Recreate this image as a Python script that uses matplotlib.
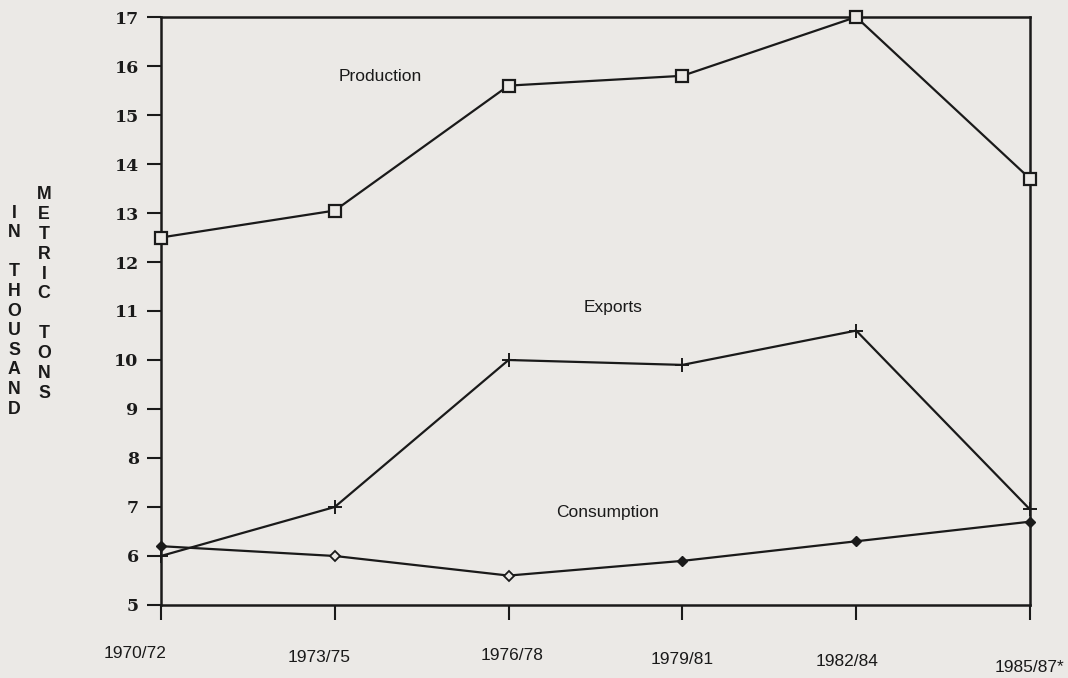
import matplotlib
matplotlib.use("Agg")
import matplotlib.pyplot as plt
import matplotlib.transforms as mtransforms

# data (thousand metric tons)
periods = ["1970/72", "1973/75", "1976/78", "1979/81", "1982/84", "1985/87*"]
production = [12.5, 13.05, 15.6, 15.8, 17.0, 13.7]
exports = [6.0, 7.0, 10.0, 9.9, 10.6, 6.95]
consumption = [6.2, 6.0, 5.6, 5.9, 6.3, 6.7]
yticks = [5, 6, 7, 8, 9, 10, 11, 12, 13, 14, 15, 16, 17]

bg = "#ebe9e6"
ink = "#1a1a1a"

fig = plt.figure(figsize=(10.68, 6.78), dpi=100, facecolor=bg)
ax = fig.add_axes([0.1507, 0.1077, 0.8137, 0.8672])
ax.set_facecolor(bg)

x = list(range(len(periods)))

ax.plot(x, production, color=ink, lw=1.6, marker="s", ms=8, mfc=bg,
        mec=ink, mew=1.6, clip_on=False, zorder=3)
ax.plot(x, exports, color=ink, lw=1.6, marker="+", ms=10, mew=1.4,
        clip_on=False, zorder=3)
ax.plot(x, consumption, color=ink, lw=1.6, clip_on=False, zorder=3)
filled = [0, 3, 4, 5]
hollow = [1, 2]
ax.plot(x, consumption, ls="none", marker="D", ms=5.5, mfc=ink, mec=ink,
        markevery=filled, clip_on=False, zorder=4)
ax.plot(x, consumption, ls="none", marker="D", ms=5.5, mfc=bg, mec=ink,
        mew=1.3, markevery=hollow, clip_on=False, zorder=4)

ax.set_xlim(0, len(periods) - 1)
ax.set_ylim(5, 17)

for s in ax.spines.values():
    s.set_linewidth(1.8)
    s.set_color(ink)

ax.set_yticks(yticks)
ax.set_yticklabels([str(v) for v in yticks], fontfamily="DejaVu Serif",
                   fontweight="bold", fontsize=12.5, color=ink)
ax.tick_params(axis="y", direction="out", length=10, width=1.5, pad=6,
               color=ink)
ax.set_xticks(x)
ax.set_xticklabels([])
ax.tick_params(axis="x", direction="out", length=11, width=1.5, color=ink)

# staggered period labels below the axis
trans = mtransforms.blended_transform_factory(ax.transData, fig.transFigure)
label_dx = [-0.15, -0.09, 0.02, 0.0, -0.05, 0.0]
label_y = [653, 658, 656, 659, 662, 668]
for xi, lab, dx, yy in zip(x, periods, label_dx, label_y):
    ax.text(xi + dx, 1 - yy / 678, lab, transform=trans, ha="center",
            va="center", fontsize=12.5, fontfamily="Liberation Sans",
            color=ink, clip_on=False)

# series names
ax.text(1.26, 15.78, "Production", ha="center", va="center", fontsize=12.5,
        fontfamily="Liberation Sans", color=ink)
ax.text(2.6, 11.08, "Exports", ha="center", va="center", fontsize=12.5,
        fontfamily="Liberation Sans", color=ink)
ax.text(2.57, 6.88, "Consumption", ha="center", va="center", fontsize=12.5,
        fontfamily="Liberation Sans", color=ink)

# stacked vertical axis title
left_col = "IN THOUSAND"
right_col = "METRIC TONS"
fig.text(14 / 1068, 1 - 311 / 678, "\n".join(left_col), ha="center",
         va="center", fontsize=12.8, fontweight="bold",
         fontfamily="Liberation Sans", color=ink, linespacing=1.2)
fig.text(44 / 1068, 1 - 294 / 678, "\n".join(right_col), ha="center",
         va="center", fontsize=12.8, fontweight="bold",
         fontfamily="Liberation Sans", color=ink, linespacing=1.22)

fig.savefig("out.png", dpi=100, facecolor=bg)
